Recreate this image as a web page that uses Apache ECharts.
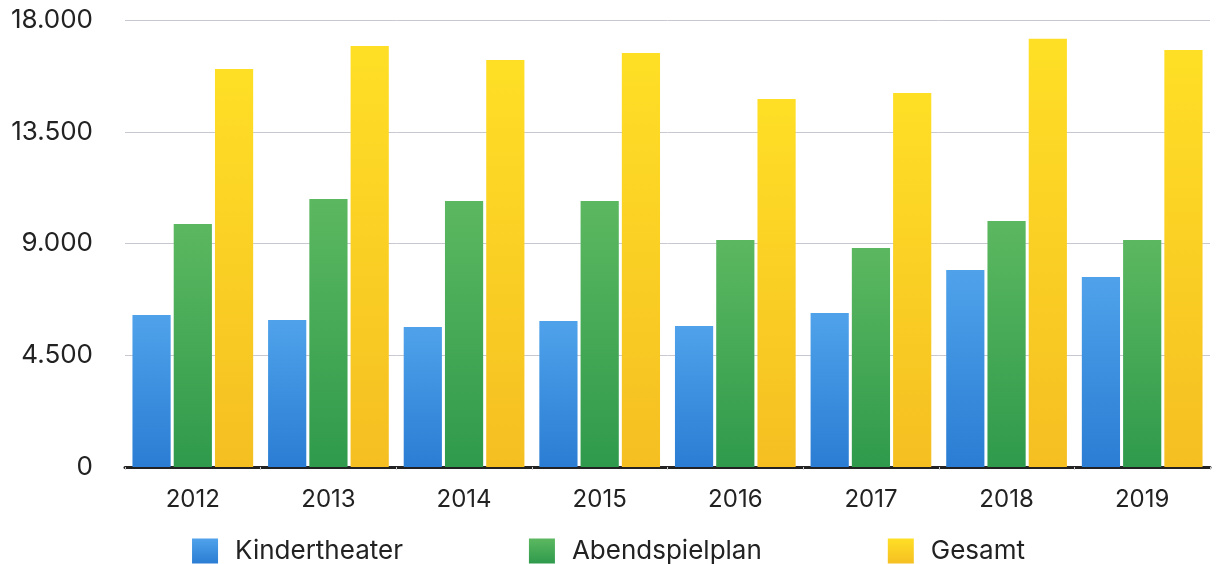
<!DOCTYPE html>
<html>
<head>
<meta charset="utf-8">
<script src="https://cdn.jsdelivr.net/npm/echarts@6/dist/echarts.min.js"></script>
<style>
  html, body { margin: 0; padding: 0; background: #fff; }
  #chart { width: 1217px; height: 564px; }
</style>
</head>
<body>
<div id="chart"></div>
<script>
var years = ['2012', '2013', '2014', '2015', '2016', '2017', '2018', '2019'];
var kindertheater = [6120, 5920, 5640, 5880, 5680, 6200, 7930, 7650];
var abendspielplan = [9790, 10790, 10710, 10710, 9140, 8820, 9910, 9140];
var gesamt = [16030, 16950, 16390, 16670, 14820, 15060, 17240, 16790];

var myChart = echarts.init(document.getElementById('chart'));

function grad(top, bottom) {
  return new echarts.graphic.LinearGradient(0, 0, 0, 1, [
    { offset: 0, color: top },
    { offset: 1, color: bottom }
  ]);
}

var blue = grad('#4fa2ea', '#2a7dd3');
var green = grad('#5cb860', '#2f9a4c');
var yellow = grad('#ffdf26', '#f5bf22');

function fmt(v) {
  return String(v).replace(/\B(?=(\d{3})+(?!\d))/g, '.');
}

myChart.setOption({
  backgroundColor: '#fff',
  animation: false,
  textStyle: { fontFamily: 'Inter, "Noto Sans", sans-serif' },
  grid: { left: 125, right: 7, top: 20, bottom: 97 },
  legend: {
    top: 533,
    left: 'center',
    icon: 'rect',
    itemWidth: 26,
    itemHeight: 25,
    itemGap: 126,
    textStyle: { fontSize: 26, color: '#222', padding: [0, 0, 0, 12] },
    data: ['Kindertheater', 'Abendspielplan', 'Gesamt']
  },
  xAxis: {
    type: 'category',
    data: years,
    axisLine: { lineStyle: { color: '#222', width: 3 } },
    axisTick: { show: true, length: 3, lineStyle: { color: '#ccc' } },
    axisLabel: { fontSize: 24, color: '#222', margin: 21 }
  },
  yAxis: {
    type: 'value',
    min: 0,
    max: 18000,
    interval: 4500,
    axisLine: { show: false },
    axisTick: { show: false },
    splitLine: { lineStyle: { color: '#c8c8d0', width: 1 } },
    axisLabel: { fontSize: 26, color: '#222', margin: 32, formatter: fmt }
  },
  series: [
    { name: 'Kindertheater', type: 'bar', data: kindertheater, itemStyle: { color: blue },
      barGap: '8%', barCategoryGap: '11%' },
    { name: 'Abendspielplan', type: 'bar', data: abendspielplan, itemStyle: { color: green } },
    { name: 'Gesamt', type: 'bar', data: gesamt, itemStyle: { color: yellow } }
  ]
});
</script>
</body>
</html>
